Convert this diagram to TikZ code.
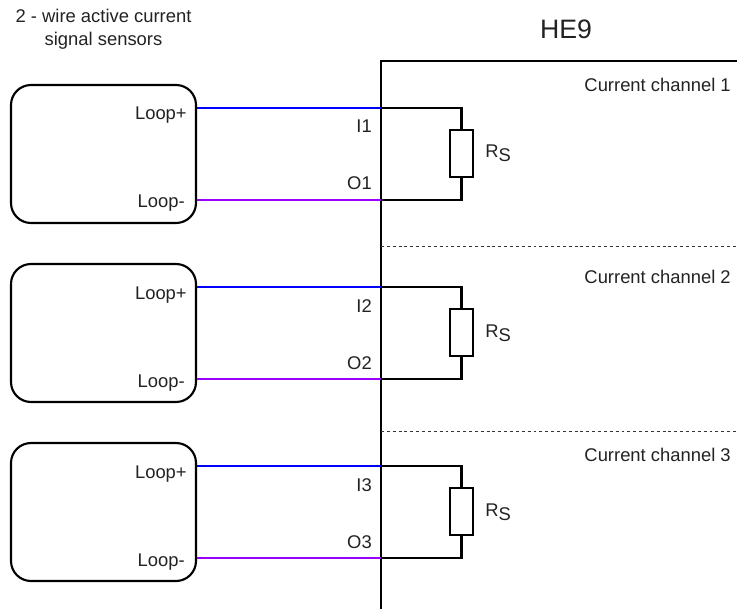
\documentclass[tikz,border=0pt]{standalone}
\usepackage{fontspec}
\setmainfont{Liberation Sans}
\definecolor{txt}{HTML}{222222}
\definecolor{loopplus}{HTML}{0000FF}
\definecolor{loopminus}{HTML}{9900FF}
\tikzset{
  sensor/.style={draw=black,line width=1.6pt,rounded corners=15pt,minimum width=138.75pt,minimum height=103.5pt,inner sep=0pt},
  wire/.style={line width=1.6pt},
  lbl/.style={text=txt,font=\fontsize{13.8pt}{17pt}\selectfont,inner sep=0pt},
  res/.style={draw=black,line width=1.6pt,fill=white,minimum width=17.25pt,minimum height=35.25pt,inner sep=0pt},
  sep/.style={line width=0.6pt,dash pattern=on 2.2pt off 2.2pt,draw=black!80},
}
\begin{document}
\begin{tikzpicture}[x=0.75pt,y=-0.75pt]
\useasboundingbox (0,0) rectangle (737,609);
\node[lbl,align=center] (title) at (103.5,29) {2 - wire active current\\signal sensors};
\node[lbl,font=\fontsize{20pt}{22pt}\selectfont] (he) at (566,29) {HE9};
\coordinate (hetop) at (381,61);
\coordinate (hebot) at (381,609);
\coordinate (heright) at (737,61);
\draw[wire] (hebot) -- (hetop) -- (heright);
\foreach \n/\dy/\ccy in {1/0/91.5,2/179/283.5,3/358/461.5}{
  \begin{scope}[yshift=-0.75*\dy pt]
  \node[sensor] (s\n) at (103.5,154) {};
  \coordinate (a\n) at (s\n.east |- 0,108);
  \coordinate (b\n) at (s\n.east |- 0,200);
  \coordinate (ha\n) at (381,108);
  \coordinate (hb\n) at (381,200);
  \node[res] (r\n) at (461.5,153.5) {};
  \coordinate (ca\n) at (r\n.north |- 0,108);
  \coordinate (cb\n) at (r\n.south |- 0,200);
  \draw[wire,loopplus] (a\n) -- (ha\n);
  \draw[wire,loopminus] (b\n) -- (hb\n);
  \draw[wire] (ha\n) -- (ca\n) -- (r\n.north);
  \draw[wire] (hb\n) -- (cb\n) -- (r\n.south);
  \node[lbl,anchor=base east] (lp\n) at (187,120) {Loop+};
  \node[lbl,anchor=base east] (lm\n) at (185,208) {Loop-};
  \node[lbl,anchor=base east] (i\n) at (372,133) {I\n};
  \node[lbl,anchor=base east] (o\n) at (372,190) {O\n};
  \node[lbl,anchor=base west] (rs\n) at (485,158) {R\raisebox{-3pt}{S}};
  \end{scope}
  \node[lbl,anchor=base east] (cc\n) at (731,\ccy) {Current channel \n};
}
\coordinate (d1a) at (381,246); \coordinate (d1b) at (737,246);
\coordinate (d2a) at (381,431); \coordinate (d2b) at (737,431);
\draw[sep] (d1a) -- (d1b);
\draw[sep] (d2a) -- (d2b);
\end{tikzpicture}
\end{document}
